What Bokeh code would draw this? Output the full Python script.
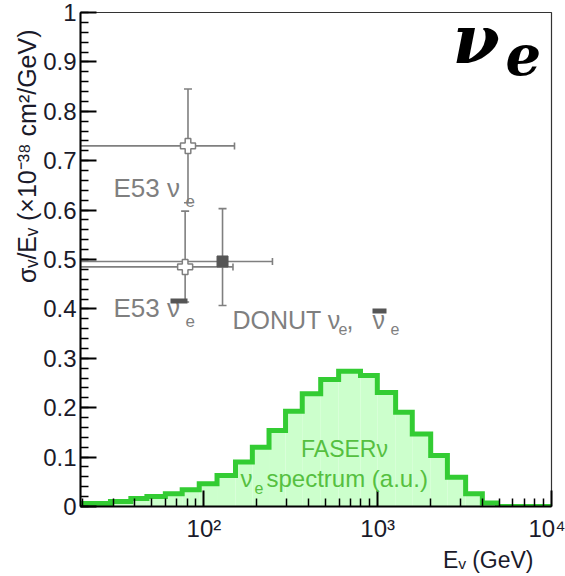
import numpy as np
from bokeh.plotting import figure
from bokeh.models import Range1d, FixedTicker, Label, BoxAnnotation, Title
from bokeh.embed import file_html
from bokeh.resources import INLINE

# ---------------- data ----------------
hist_edges = [10, 29, 38, 47, 60, 75, 94, 119, 152, 190, 237, 295, 368, 470,
              596, 796, 995, 1268, 1581, 2018, 2518, 3206, 4000, 4887, 10000]
hist_values = [0.006, 0.010, 0.016, 0.020, 0.026, 0.034, 0.046, 0.063, 0.090,
               0.120, 0.154, 0.193, 0.228, 0.257, 0.274, 0.265, 0.231, 0.191,
               0.147, 0.103, 0.059, 0.026, 0.007, 0.0]

e53_energy = [81, 78]
e53_sigma = [0.73, 0.485]
e53_e_low = [10, 10]
e53_e_high = [150, 147]
e53_sigma_low = [0.615, 0.414]
e53_sigma_high = [0.845, 0.598]

donut_energy = [128]
donut_sigma = [0.496]
donut_e_low = [10]
donut_e_high = [248]
donut_sigma_low = [0.407]
donut_sigma_high = [0.603]

y_ticks = [0, 0.1, 0.2, 0.3, 0.4, 0.5, 0.6, 0.7, 0.8, 0.9, 1]
y_tick_labels = ["0", "0.1", "0.2", "0.3", "0.4", "0.5", "0.6", "0.7", "0.8", "0.9", "1"]
x_ticks = [100, 1000, 10000]
x_tick_labels = ["10²", "10³", "10⁴"]

FONT = "Liberation Sans"
GRAY = "#7f7f7f"
GREEN_LINE = "#33cc33"
GREEN_FILL = "#ccffcc"
GREEN_TEXT = "#55c040"
TXT = "#1a1a2a"

p = figure(width=565, height=576, x_axis_type="log",
           x_range=Range1d(19.5, 10000), y_range=Range1d(0, 1),
           output_backend="svg", toolbar_location=None,
           min_border_left=80, min_border_right=14,
           min_border_top=12, min_border_bottom=70)
p.xgrid.visible = False
p.ygrid.visible = False
p.outline_line_color = "#333333"
p.outline_line_width = 1.2
p.background_fill_color = "white"
p.border_fill_color = "white"

# histogram
p.quad(left=hist_edges[:-1], right=hist_edges[1:], bottom=0, top=hist_values,
       fill_color=GREEN_FILL, line_color=None)
p.step(x=hist_edges, y=hist_values + [hist_values[-1]], mode="after",
       line_color=GREEN_LINE, line_width=5, line_join="miter")

# error bars
for en, sg, elo, ehi, slo, shi in [
        (e53_energy, e53_sigma, e53_e_low, e53_e_high, e53_sigma_low, e53_sigma_high),
        (donut_energy, donut_sigma, donut_e_low, donut_e_high, donut_sigma_low, donut_sigma_high)]:
    p.segment(x0=elo, y0=sg, x1=ehi, y1=sg, line_color=GRAY, line_width=1.6)
    p.segment(x0=en, y0=slo, x1=en, y1=shi, line_color=GRAY, line_width=1.6)
    p.scatter(x=ehi, y=sg, marker="dash", angle=np.pi / 2, size=7,
              line_color=GRAY, line_width=1.6)
    p.scatter(x=en + en, y=slo + shi, marker="dash", size=8,
              line_color=GRAY, line_width=1.6)

p.scatter(x=e53_energy, y=e53_sigma, marker="plus", size=15,
          fill_color="white", line_color=GRAY, line_width=1.5)
p.scatter(x=donut_energy, y=donut_sigma, marker="square", size=11,
          fill_color="#555555", line_color="#555555")

# axes
p.yaxis.ticker = FixedTicker(ticks=y_ticks,
                             minor_ticks=[round(v, 2) for v in np.arange(0, 1.0001, 0.02)])
p.yaxis.major_label_overrides = dict(zip(y_ticks, y_tick_labels))
minor_x = [m * d for d in (10, 100, 1000) for m in range(2, 10)]
p.xaxis.ticker = FixedTicker(ticks=x_ticks, minor_ticks=minor_x)
p.xaxis.major_label_overrides = dict(zip(x_ticks, x_tick_labels))

for ax in (p.xaxis[0], p.yaxis[0]):
    ax.axis_line_width = 2
    ax.axis_line_color = "black"
    ax.major_tick_in = 16
    ax.major_tick_out = 0
    ax.minor_tick_in = 8
    ax.minor_tick_out = 0
    ax.major_tick_line_width = 2
    ax.minor_tick_line_width = 1.5
    ax.major_tick_line_color = "black"
    ax.minor_tick_line_color = "black"
    ax.major_label_text_font = FONT
    ax.major_label_text_font_size = "24px"
    ax.major_label_text_color = TXT
p.yaxis.major_label_standoff = 4
p.xaxis.major_label_standoff = 8

# axis titles
p.add_layout(Title(text="σᵥ/Eᵥ (×10⁻³⁸ cm²/GeV)", align="right", offset=17,
                   text_font=FONT, text_font_size="25px",
                   text_font_style="normal", text_color=TXT, standoff=0), "left")
p.add_layout(Title(text="Eᵥ (GeV)", align="right", offset=18,
                   text_font=FONT, text_font_size="23px",
                   text_font_style="normal", text_color=TXT, standoff=0), "below")


def lab(x, y, text, size, color=TXT, align="left", font=FONT, style="normal"):
    p.add_layout(Label(x=x, y=y, x_units="screen", y_units="screen", text=text,
                       text_font=font, text_font_size=f"{size}px",
                       text_color=color, text_align=align,
                       text_baseline="alphabetic", text_font_style=style))


def bar(l, r, b, t):
    p.add_layout(BoxAnnotation(left=l, right=r, top=t, bottom=b,
                               left_units="screen", right_units="screen",
                               top_units="screen", bottom_units="screen",
                               fill_color="#555555", fill_alpha=1, line_color=None))


# annotations
lab(33, 319, "E53 ν", 26, color=GRAY)
lab(105, 306, "e", 17, color=GRAY)
lab(33, 199, "E53 ν", 26, color=GRAY)
lab(105, 186, "e", 17, color=GRAY)
bar(90, 107, 203, 208)
lab(152, 187, "DONUT ν", 25, color=GRAY)
lab(258, 178, "e", 16, color=GRAY)
lab(266, 187, ",", 25, color=GRAY)
lab(292, 187, "ν", 25, color=GRAY)
lab(310, 178, "e", 16, color=GRAY)
bar(292, 306, 193, 198)

lab(264, 58, "FASERν", 23, color=GREEN_TEXT, align="center")
lab(160, 28, "ν", 24, color=GREEN_TEXT)
lab(174, 19, "e", 16, color=GREEN_TEXT)
lab(186, 28, "spectrum (a.u.)", 24, color=GREEN_TEXT)

# big label
lab(372, 468, "ν", 68, color="black", font="DejaVu Serif", style="bold italic")
lab(425, 452, "e", 56, color="black", font="DejaVu Serif", style="bold italic")

open("out.html", "w").write(file_html(p, INLINE))
